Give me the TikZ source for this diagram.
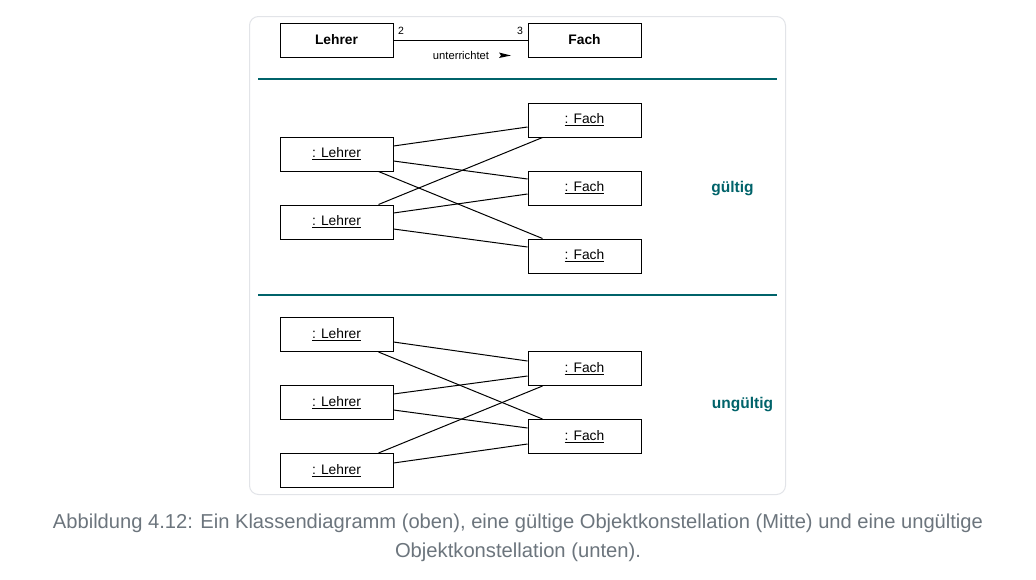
\documentclass[tikz,border=0pt]{standalone}
\usepackage{fontspec}
\setmainfont{Liberation Sans}
\definecolor{tealc}{HTML}{00636A}
\definecolor{capgray}{HTML}{6C757D}
\definecolor{framegray}{HTML}{E2E4E8}
\begin{document}
\begin{tikzpicture}[x=1pt,y=-1pt,
  cls/.style={draw=black, line width=1pt, minimum width=113pt, minimum height=34pt, inner sep=0pt, font=\fontsize{13.8}{15}\selectfont\bfseries},
  obj/.style={draw=black, line width=1pt, minimum width=113pt, minimum height=34pt, inner sep=0pt, font=\fontsize{13.8}{15}\selectfont},
  link/.style={line width=1pt, black},
  sep/.style={line width=2pt, tealc},
  verdict/.style={font=\fontsize{15.5}{18}\selectfont\bfseries, text=tealc, inner sep=0pt},
  mult/.style={font=\fontsize{10.5}{12}\selectfont, inner sep=0pt},
]
\useasboundingbox (0,0) rectangle (1036,579);
\fill[white] (0,0) rectangle (1036,579);
\draw[framegray, line width=1pt, rounded corners=9pt] (249.5,16.5) rectangle (785.5,494.5);

% class diagram
\node[cls] (cL) at (336.5,40) {\raisebox{-1pt}{Lehrer}};
\node[cls] (cF) at (584.5,40) {\raisebox{-1pt}{Fach}};
\draw[link] (cL.east) -- (cF.west);
\node[mult] (m2) at (401,31) {2};
\node[mult] (m3) at (520,31) {3};
\node[font=\fontsize{11.2}{13}\selectfont, inner sep=0pt] (ut) at (461,55.5) {unterrichtet};
\fill[black] (499,52.5) -- (511,55.5) -- (499,58) -- (501,55.5) -- cycle;

\coordinate (s1a) at (258,79); \coordinate (s1b) at (777,79);
\draw[sep] (s1a) -- (s1b);

% valid constellation
\node[obj] (vL1) at (336.5,154) {\underline{: Lehrer}};
\node[obj] (vL2) at (336.5,222) {\underline{: Lehrer}};
\node[obj] (vF1) at (584.5,120) {\underline{: Fach}};
\node[obj] (vF2) at (584.5,188) {\underline{: Fach}};
\node[obj] (vF3) at (584.5,256) {\underline{: Fach}};
\draw[link] ([yshift=8pt]vL1.east) -- ([yshift=-7pt]vF1.west);
\draw[link] ([yshift=-7pt]vL1.east) -- ([yshift=9pt]vF2.west);
\draw[link] ([xshift=-15pt]vL1.south east) -- ([xshift=15pt]vF3.north west);
\draw[link] ([xshift=-15pt]vL2.north east) -- ([xshift=15pt]vF1.south west);
\draw[link] ([yshift=9pt]vL2.east) -- ([yshift=-6pt]vF2.west);
\draw[link] ([yshift=-7pt]vL2.east) -- ([yshift=9pt]vF3.west);
\node[verdict] (ok) at (732.5,188.5) {gültig};

\coordinate (s2a) at (258,295); \coordinate (s2b) at (777,295);
\draw[sep] (s2a) -- (s2b);

% invalid constellation
\node[obj] (iL1) at (336.5,334.5) {\underline{: Lehrer}};
\node[obj] (iL2) at (336.5,402.5) {\underline{: Lehrer}};
\node[obj] (iL3) at (336.5,470.5) {\underline{: Lehrer}};
\node[obj] (iF1) at (584.5,368.5) {\underline{: Fach}};
\node[obj] (iF2) at (584.5,436.5) {\underline{: Fach}};
\draw[link] ([yshift=-7.5pt]iL1.east) -- ([yshift=7.5pt]iF1.west);
\draw[link] ([xshift=-15pt]iL1.south east) -- ([xshift=15pt]iF2.north west);
\draw[link] ([yshift=8.5pt]iL2.east) -- ([yshift=-7.5pt]iF1.west);
\draw[link] ([yshift=-7.5pt]iL2.east) -- ([yshift=8.5pt]iF2.west);
\draw[link] ([xshift=-15pt]iL3.north east) -- ([xshift=15pt]iF1.south west);
\draw[link] ([yshift=7.5pt]iL3.east) -- ([yshift=-7.5pt]iF2.west);
\node[verdict] (nok) at (742.5,404.5) {ungültig};

% caption
\node[text=capgray, inner sep=0pt, font=\fontsize{17}{20}\selectfont] (cap1) at (518,523.5)
  {\resizebox{930pt}{!}{Abbildung 4.12: Ein Klassendiagramm (oben), eine gültige Objektkonstellation (Mitte) und eine ungültige}};
\node[text=capgray, inner sep=0pt, font=\fontsize{17}{20}\selectfont] (cap2) at (518,552.5)
  {\resizebox{246pt}{!}{Objektkonstellation (unten).}};
\end{tikzpicture}
\end{document}
